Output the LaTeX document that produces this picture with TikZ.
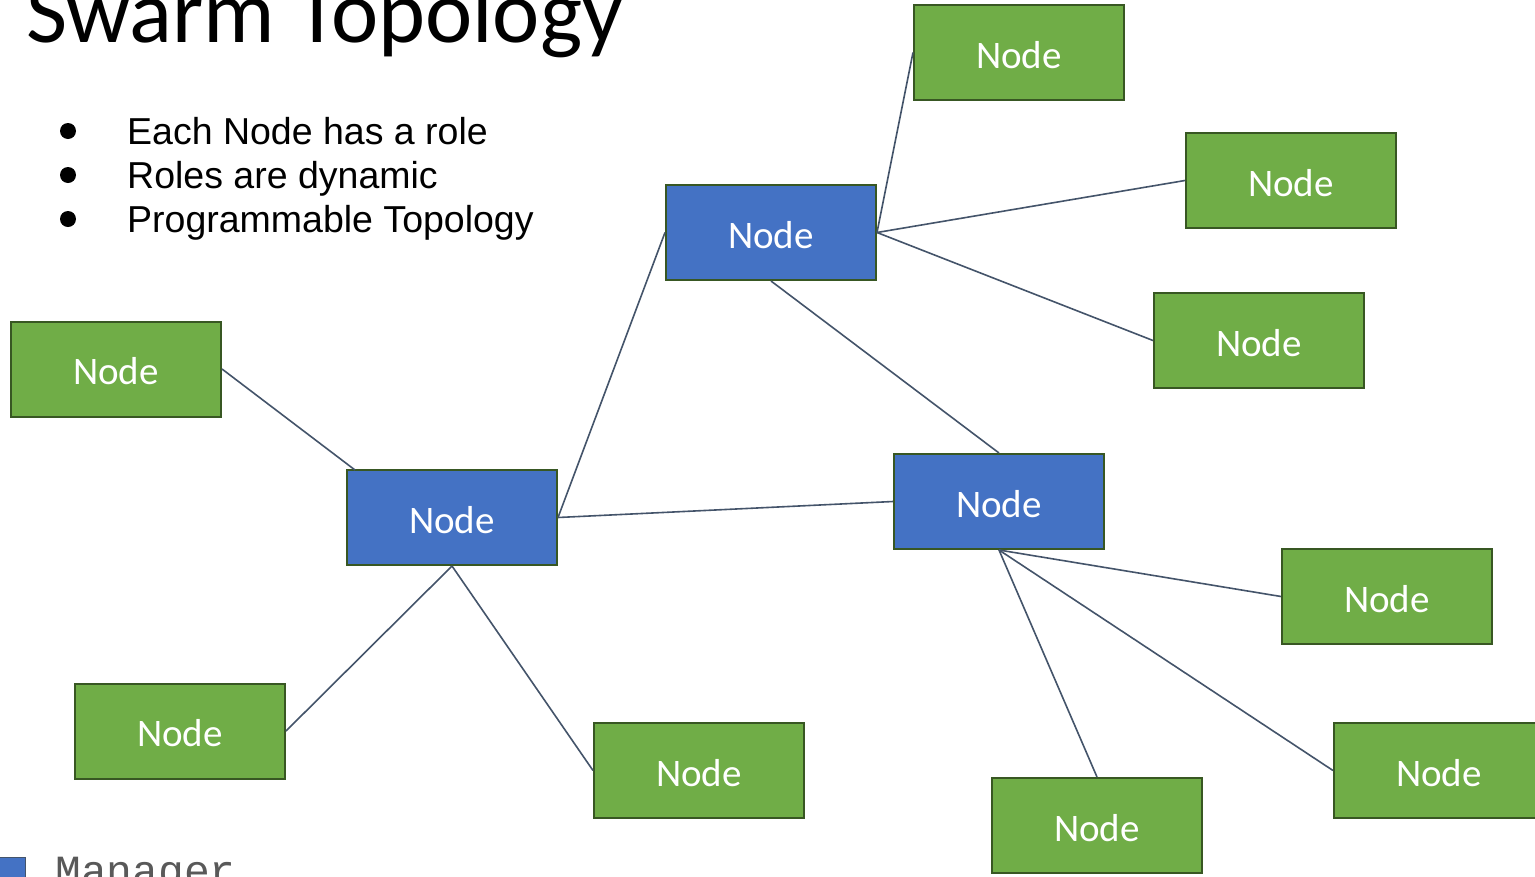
\documentclass[tikz,border=0pt]{standalone}
\usepackage{fontspec}
\setmainfont{Carlito}
\newfontfamily\arialf{Liberation Sans}
\newfontfamily\monof{Liberation Mono}
\definecolor{ngreen}{HTML}{70AD47}
\definecolor{nblue}{HTML}{4472C4}
\definecolor{nborder}{HTML}{385723}
\definecolor{link}{HTML}{44546A}
\definecolor{legtext}{HTML}{595959}
\tikzset{
  box/.style={draw=nborder, line width=2pt, minimum width=210pt, minimum height=95pt, inner sep=0pt,
    text=white, text height=31pt, text depth=0pt, font=\fontsize{39}{39}\selectfont},
  gbox/.style={box, fill=ngreen},
  bbox/.style={box, fill=nblue},
  link/.style={draw=link, line width=1.6pt},
  bullet/.style={anchor=base west, inner sep=0pt, font=\arialf\fontsize{37.5}{37.5}\selectfont},
  dot/.style={circle, fill=black, minimum size=16pt, inner sep=0pt}
}
\begin{document}
\begin{tikzpicture}[x=1pt,y=-1pt]
\useasboundingbox (0,0) rectangle (1535,876);
\fill[white] (0,0) rectangle (1535,876);
% title
\node[anchor=base west, inner sep=0pt, font=\fontsize{89.5}{89.5}\selectfont] (title) at (26,42) {Swarm Topology};
% bullets
\node[dot] (d1) at (68,131) {};
\node[bullet] (l1) at (127,144) {Each Node has a role};
\node[dot] (d2) at (68,175) {};
\node[bullet] (l2) at (127,188) {Roles are dynamic};
\node[dot] (d3) at (68,219) {};
\node[bullet] (l3) at (127,232) {Programmable Topology};
% nodes
\node[gbox] (g1) at (1019,52.5) {Node};
\node[gbox] (g2) at (1291,180.5) {Node};
\node[bbox] (b3) at (771,232.5) {Node};
\node[gbox] (g4) at (1259,340.5) {Node};
\node[gbox] (g5) at (116,369) {Node};
\node[bbox] (b6) at (452,517.5) {Node};
\node[bbox] (b7) at (999,501.5) {Node};
\node[gbox] (g8) at (1387,596.5) {Node};
\node[gbox] (g9) at (180,731) {Node};
\node[gbox] (g10) at (699,770.5) {Node};
\node[gbox] (g11) at (1439,770.5) {Node};
\node[gbox] (g12) at (1097,825.5) {Node};
\coordinate (b6in) at (355,470);
% connectors
\draw[link] (b3.west) -- (b6.east);
\draw[link] (b3.east) -- (g1.west);
\draw[link] (b3.east) -- (g2.west);
\draw[link] (b3.east) -- (g4.west);
\draw[link] (b3.south) -- (b7.north);
\draw[link] (g5.east) -- (b6in);
\draw[link] (b6.east) -- (b7.west);
\draw[link] (b6.south) -- (g9.east);
\draw[link] (b6.south) -- (g10.west);
\draw[link] (b7.south) -- (g8.west);
\draw[link] (b7.south) -- (g11.west);
\draw[link] (b7.south) -- (g12.north);
% legend
\node[draw=link, line width=1pt, fill=nblue, minimum size=26pt, inner sep=0pt, anchor=north west] (leg) at (-1,857) {};
\node[anchor=base west, inner sep=0pt, text=legtext, font=\monof\fontsize{43}{43}\selectfont] (legt) at (55,885) {Manager};
\end{tikzpicture}
\end{document}
